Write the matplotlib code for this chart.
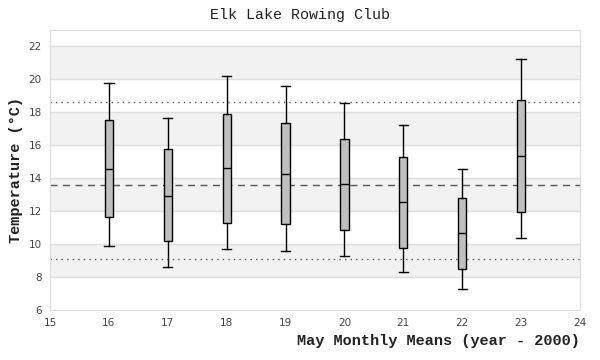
import matplotlib
matplotlib.use("Agg")
import matplotlib.pyplot as plt

# дані
years = [16, 17, 18, 19, 20, 21, 22, 23]
whis_lo = [9.88, 8.59, 9.68, 9.56, 9.25, 8.28, 7.25, 10.35]
q1 = [11.64, 10.16, 11.31, 11.20, 10.83, 9.74, 8.47, 11.98]
med = [14.59, 12.95, 14.65, 14.28, 13.62, 12.53, 10.65, 15.38]
q3 = [17.56, 15.80, 17.92, 17.37, 16.40, 15.31, 12.83, 18.77]
whis_hi = [19.76, 17.68, 20.18, 19.58, 18.59, 17.25, 14.59, 21.25]

mean_all = 13.6
band_lo = 9.1
band_hi = 18.6

stats = []
for i in range(len(years)):
    stats.append({'whislo': whis_lo[i], 'q1': q1[i], 'med': med[i],
                  'q3': q3[i], 'whishi': whis_hi[i], 'fliers': []})

fig = plt.figure(figsize=(6, 3.6), dpi=100)
ax = fig.add_axes([50 / 600, 50 / 360, 530 / 600, 280 / 360])

# сірі смуги та сітка
for y0 in [8, 12, 16, 20]:
    ax.axhspan(y0, y0 + 2, color='#f2f2f2', zorder=0, lw=0)
for y in range(8, 23, 2):
    ax.axhline(y, color='#dddddd', lw=1, zorder=1)

ax.axhline(band_hi, color='#555555', ls=(0, (1, 3)), lw=1, zorder=2)
ax.axhline(band_lo, color='#555555', ls=(0, (1, 3)), lw=1, zorder=2)
ax.axhline(mean_all, color='#555555', ls=(0, (5, 4)), lw=1, zorder=2)

ax.bxp(stats, positions=years, widths=0.14, patch_artist=True,
       showfliers=False, manage_ticks=False, zorder=3,
       boxprops=dict(facecolor='#bfbfbf', edgecolor='black', lw=1),
       medianprops=dict(color='black', lw=1),
       whiskerprops=dict(color='black', lw=1),
       capprops=dict(color='black', lw=1),
       capwidths=0.16)

ax.set_xlim(15, 24)
ax.set_ylim(6, 23)
ax.set_xticks(range(15, 25))
ax.set_yticks(range(6, 23, 2))
ax.tick_params(length=0, labelsize=7.5, labelcolor='#444444', pad=6)
for s in ax.spines.values():
    s.set_color('#dddddd')

fig.text(0.5, 1 - 15 / 360, 'Elk Lake Rowing Club', family='Liberation Mono',
         fontsize=10.8, color='#222222', ha='center', va='center')
ax.set_ylabel('Temperature (°C)', family='Liberation Mono', fontsize=11,
              color='#222222', fontweight='bold', labelpad=4)
ax.set_xlabel('May Monthly Means (year - 2000)', family='Liberation Mono',
              fontsize=11, color='#222222', fontweight='bold', loc='right')

fig.savefig('out.png', dpi=100)
